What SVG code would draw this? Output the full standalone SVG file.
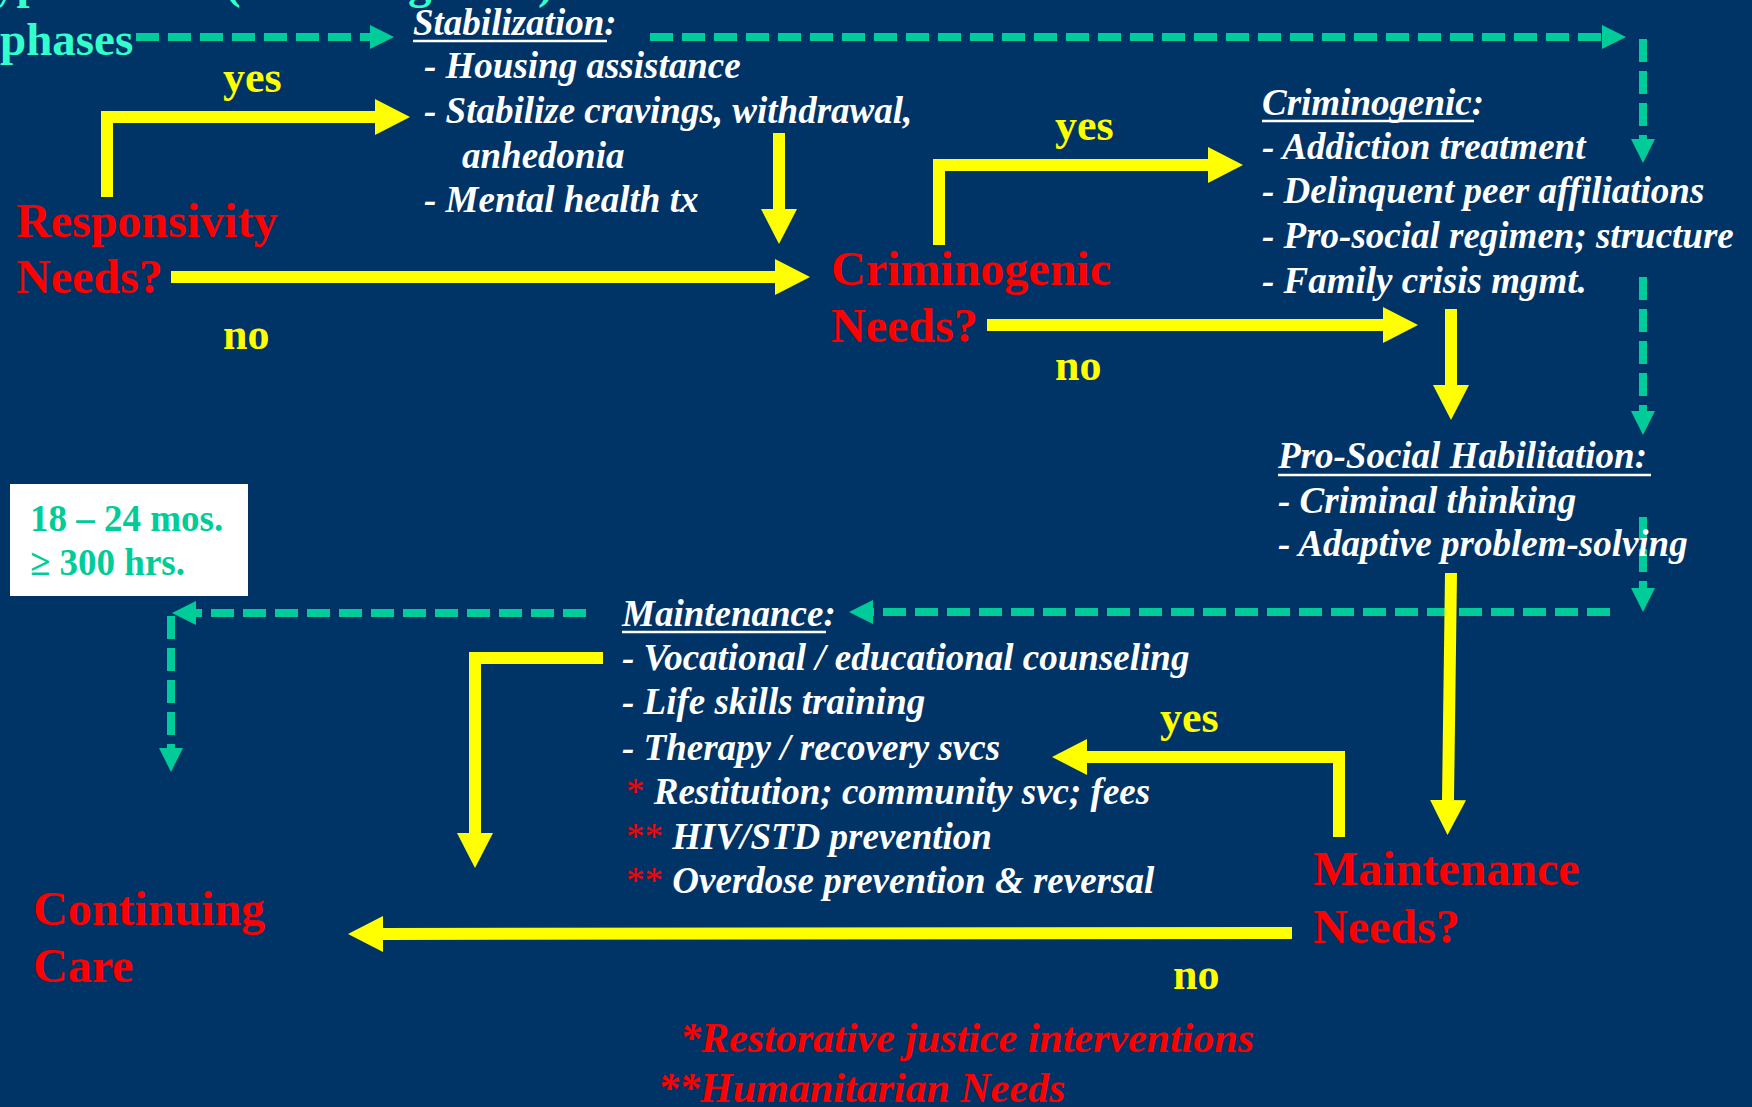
<svg xmlns="http://www.w3.org/2000/svg" width="1752" height="1107" viewBox="0 0 1752 1107">
  <style>
    text { font-family: "Liberation Serif", "Times New Roman", serif; font-weight: bold; }
    .title { fill: #33FFCC; font-size: 47px; }
    .need { fill: #FF0000; font-size: 48px; }
    .lbl { fill: #FFFF00; font-size: 44px; }
    .item { fill: #FFFFFF; font-size: 37px; font-style: italic; }
    .star { fill: #FF0000; font-style: normal; font-weight: normal; }
    .note { fill: #FF0000; font-size: 42px; font-style: italic; }
    .dur { fill: #00CC99; font-size: 37px; }
    .ul { stroke: #FFFFFF; stroke-width: 2.5; }
    .flow { fill: none; stroke: #FFFF00; stroke-width: 12; stroke-linejoin: miter; marker-end: url(#yhead); }
    .phase { fill: none; stroke: #00CC99; stroke-width: 8; stroke-dasharray: 23 9; marker-end: url(#thead); }
  </style>
  <defs>
    <marker id="yhead" markerUnits="userSpaceOnUse" viewBox="0 0 35 36" markerWidth="35" markerHeight="36" refX="0" refY="18" orient="auto">
      <path d="M0,0 L35,18 L0,36 Z" fill="#FFFF00"/>
    </marker>
    <marker id="thead" markerUnits="userSpaceOnUse" viewBox="0 0 24 24" markerWidth="24" markerHeight="24" refX="0" refY="12" orient="auto">
      <path d="M0,0 L24,12 L0,24 Z" fill="#00CC99"/>
    </marker>
  </defs>

  <rect width="1752" height="1107" fill="#003366"/>

  <!-- heading fragment running off the top edge -->
  <g id="heading">
    <text class="title" y="-2"><tspan x="-7">yp</tspan><tspan x="225">(</tspan><tspan x="408">g</tspan><tspan x="538">)</tspan></text>
    <text class="title" x="0" y="55">phases</text>
  </g>

  <!-- connectors -->
  <g id="connectors">
    <!-- phase sequence (dashed) -->
    <path class="phase" stroke-width="10" d="M136,37 H370"/>
    <path class="phase" d="M650,37 H1602"/>
    <path class="phase" d="M1643,39 V139"/>
    <path class="phase" d="M1643,277 V411"/>
    <path class="phase" d="M1643,517 V588"/>
    <path class="phase" d="M1610,612 H873"/>
    <path class="phase" d="M586,613 H196"/>
    <path class="phase" d="M171,616 V748"/>

    <!-- decision flow (solid) -->
    <path class="flow" d="M107,197 V117 H375"/>
    <path class="flow" d="M171,277 H775"/>
    <path class="flow" d="M779,133 V209"/>
    <path class="flow" d="M939,245 V165 H1208"/>
    <path class="flow" d="M987,325 H1383"/>
    <path class="flow" d="M1451,309 V385"/>
    <path class="flow" d="M1451,573 L1448,800"/>
    <path class="flow" d="M1339,837 V757 H1087"/>
    <path class="flow" d="M1292,933 L383,934"/>
    <path class="flow" d="M603,658 H475 V833"/>
  </g>

  <!-- branch labels -->
  <g id="labels">
    <text class="lbl" x="223" y="92">yes</text>
    <text class="lbl" x="223" y="349">no</text>
    <text class="lbl" x="1055" y="140">yes</text>
    <text class="lbl" x="1055" y="380">no</text>
    <text class="lbl" x="1160" y="732">yes</text>
    <text class="lbl" x="1173" y="989">no</text>
  </g>

  <!-- decision nodes -->
  <g id="responsivity">
    <text class="need" x="16" y="237">Responsivity</text>
    <text class="need" x="16" y="293">Needs?</text>
  </g>
  <g id="criminogenic">
    <text class="need" x="831" y="285">Criminogenic</text>
    <text class="need" x="831" y="342">Needs?</text>
  </g>
  <g id="maintenance">
    <text class="need" x="1313" y="885">Maintenance</text>
    <text class="need" x="1313" y="943">Needs?</text>
  </g>
  <g id="continuing-care">
    <text class="need" x="33" y="925">Continuing</text>
    <text class="need" x="33" y="982">Care</text>
  </g>

  <!-- phase contents -->
  <g id="stabilization">
    <text class="item" x="413" y="35">Stabilization:</text>
    <line class="ul" x1="413" y1="41" x2="607" y2="41"/>
    <text class="item" x="424" y="78">- Housing assistance</text>
    <text class="item" x="424" y="123">- Stabilize cravings, withdrawal,</text>
    <text class="item" x="462" y="168">anhedonia</text>
    <text class="item" x="424" y="212">- Mental health tx</text>
  </g>
  <g id="criminogenic-phase">
    <text class="item" x="1262" y="115">Criminogenic:</text>
    <line class="ul" x1="1262" y1="121" x2="1474" y2="121"/>
    <text class="item" x="1262" y="159">- Addiction treatment</text>
    <text class="item" x="1262" y="203">- Delinquent peer affiliations</text>
    <text class="item" x="1262" y="248">- Pro-social regimen; structure</text>
    <text class="item" x="1262" y="293">- Family crisis mgmt.</text>
  </g>
  <g id="habilitation">
    <text class="item" x="1278" y="468">Pro-Social Habilitation:</text>
    <line class="ul" x1="1278" y1="475" x2="1651" y2="475"/>
    <text class="item" x="1278" y="513">- Criminal thinking</text>
    <text class="item" x="1278" y="556">- Adaptive problem-solving</text>
  </g>
  <g id="maintenance-phase">
    <text class="item" x="622" y="626">Maintenance:</text>
    <line class="ul" x1="622" y1="632" x2="826" y2="632"/>
    <text class="item" x="622" y="670">- Vocational / educational counseling</text>
    <text class="item" x="622" y="714">- Life skills training</text>
    <text class="item" x="622" y="760">- Therapy / recovery svcs</text>
    <text class="item" x="626" y="804"><tspan class="star">*</tspan> Restitution; community svc; fees</text>
    <text class="item" x="626" y="849"><tspan class="star">**</tspan> HIV/STD prevention</text>
    <text class="item" x="626" y="893"><tspan class="star">**</tspan> Overdose prevention &amp; reversal</text>
  </g>

  <!-- duration box -->
  <g id="duration">
    <rect x="10" y="484" width="238" height="112" fill="#FFFFFF"/>
    <text class="dur" x="30" y="531">18 – 24 mos.</text>
    <text class="dur" x="30" y="575">≥ 300 hrs.</text>
  </g>

  <!-- footnotes -->
  <g id="footnotes">
    <text class="note" x="680" y="1052">*Restorative justice interventions</text>
    <text class="note" x="658" y="1102">**Humanitarian Needs</text>
  </g>
</svg>
